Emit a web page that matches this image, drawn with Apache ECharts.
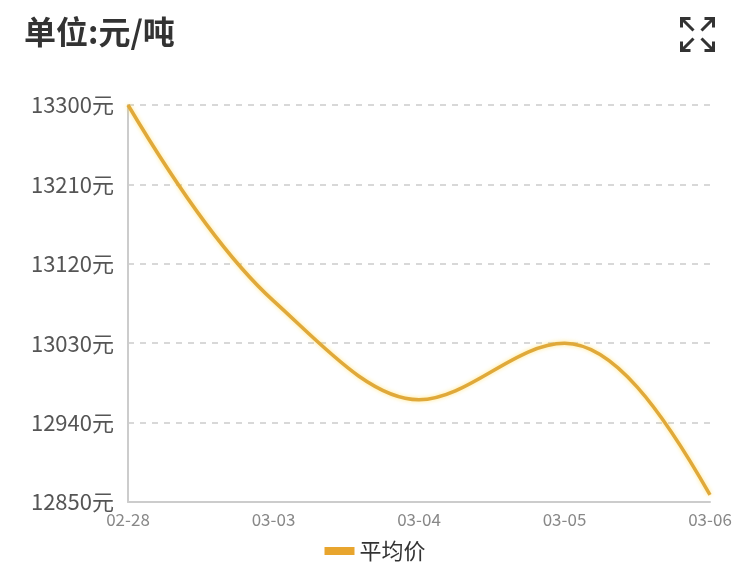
<!DOCTYPE html>
<html>
<head>
<meta charset="utf-8">
<script src="https://cdn.jsdelivr.net/npm/echarts@6/dist/echarts.min.js"></script>
<style>html,body{margin:0;padding:0;background:#fff;}#c{width:750px;height:570px;}</style>
</head>
<body>
<div id="c"></div>
<script>
var categories = ['02-28', '03-03', '03-04', '03-05', '03-06'];
var avgPrice = [13300, 13078, 12966, 13030, 12858];
var yMin = 12850, yMax = 13300, yStep = 90;
var seriesName = '平均价';
var titleText = '单位:元/吨';

// monotone cubic (Fritsch-Carlson) path through points given in pixel space by the chart's scales
function monotonePath(pts) {
  var n = pts.length, d = [], h = [], m = [], i;
  for (i = 0; i < n - 1; i++) {
    h[i] = pts[i + 1][0] - pts[i][0];
    d[i] = (pts[i + 1][1] - pts[i][1]) / h[i];
  }
  for (i = 1; i < n - 1; i++) {
    if (d[i - 1] * d[i] <= 0) { m[i] = 0; }
    else {
      var w1 = 2 * h[i] + h[i - 1], w2 = h[i] + 2 * h[i - 1];
      m[i] = (w1 + w2) / (w1 / d[i - 1] + w2 / d[i]);
    }
  }
  function endSlope(h0, h1, d0, d1) {
    var s = ((2 * h0 + h1) * d0 - h0 * d1) / (h0 + h1);
    if (s * d0 <= 0) s = 0;
    else if (d0 * d1 <= 0 && Math.abs(s) > Math.abs(3 * d0)) s = 3 * d0;
    return s;
  }
  m[0] = endSlope(h[0], h[1], d[0], d[1]);
  m[n - 1] = endSlope(h[n - 2], h[n - 3], d[n - 2], d[n - 3]);
  var p = 'M' + pts[0][0] + ' ' + pts[0][1];
  for (i = 0; i < n - 1; i++) {
    var t = h[i] / 3;
    p += ' C' + (pts[i][0] + t) + ' ' + (pts[i][1] + m[i] * t) + ' ' +
         (pts[i + 1][0] - t) + ' ' + (pts[i + 1][1] - m[i + 1] * t) + ' ' +
         pts[i + 1][0] + ' ' + pts[i + 1][1];
  }
  return p;
}

var chart = echarts.init(document.getElementById('c'));
chart.setOption({
  backgroundColor: '#fff',
  animation: false,
  title: {
    text: titleText, left: 19, top: 11,
    textStyle: {fontSize: 32, fontWeight: 'bold', color: '#333', fontFamily: 'Noto Sans CJK SC'}
  },
  graphic: [{
    type: 'group', left: 679, top: 16,
    children: [
      {type: 'polyline', shape: {points: [[2,2],[14,14]]}, style: {stroke: '#333', lineWidth: 3, fill: null}},
      {type: 'polyline', shape: {points: [[2,11],[2,2],[11,2]]}, style: {stroke: '#333', lineWidth: 3, fill: null}},
      {type: 'polyline', shape: {points: [[34,2],[22,14]]}, style: {stroke: '#333', lineWidth: 3, fill: null}},
      {type: 'polyline', shape: {points: [[25,2],[34,2],[34,11]]}, style: {stroke: '#333', lineWidth: 3, fill: null}},
      {type: 'polyline', shape: {points: [[2,34],[14,22]]}, style: {stroke: '#333', lineWidth: 3, fill: null}},
      {type: 'polyline', shape: {points: [[2,25],[2,34],[11,34]]}, style: {stroke: '#333', lineWidth: 3, fill: null}},
      {type: 'polyline', shape: {points: [[34,34],[22,22]]}, style: {stroke: '#333', lineWidth: 3, fill: null}},
      {type: 'polyline', shape: {points: [[34,25],[34,34],[25,34]]}, style: {stroke: '#333', lineWidth: 3, fill: null}}
    ]
  }],
  legend: {
    bottom: 3, left: 'center',
    itemWidth: 30, itemHeight: 8, itemGap: 10,
    icon: 'rect',
    data: [seriesName],
    textStyle: {fontSize: 22, color: '#333', fontFamily: 'Noto Sans CJK SC'}
  },
  grid: {left: 128, right: 40, top: 105, bottom: 68},
  xAxis: {
    type: 'category', boundaryGap: false, data: categories,
    axisLine: {show: true, lineStyle: {color: '#ccc', width: 2}},
    axisTick: {show: false},
    axisLabel: {fontSize: 17, color: '#888', margin: 9, fontFamily: 'Noto Sans CJK SC'}
  },
  yAxis: {
    type: 'value', min: yMin, max: yMax, interval: yStep,
    axisLine: {show: true, lineStyle: {color: '#ccc', width: 2}},
    axisTick: {show: false},
    axisLabel: {fontSize: 22, color: '#555', margin: 14, fontFamily: 'Noto Sans CJK SC',
      formatter: function (v) { return v + '元'; }},
    splitLine: {show: true, lineStyle: {color: '#ccc', type: [6, 6], width: 1.5}}
  },
  series: [{
    name: seriesName, type: 'custom',
    data: avgPrice.map(function (v, i) { return [i, v]; }),
    itemStyle: {color: '#E8A52E'},
    renderItem: function (params, api) {
      if (params.dataIndex !== 0) return;
      var pts = avgPrice.map(function (v, i) { return api.coord([i, v]); });
      return {
        type: 'path',
        shape: {pathData: monotonePath(pts)},
        style: {fill: null, stroke: '#E0A93A', lineWidth: 3.5,
          shadowColor: 'rgba(255,215,60,0.6)', shadowBlur: 4}
      };
    }
  }]
});
</script>
</body>
</html>
